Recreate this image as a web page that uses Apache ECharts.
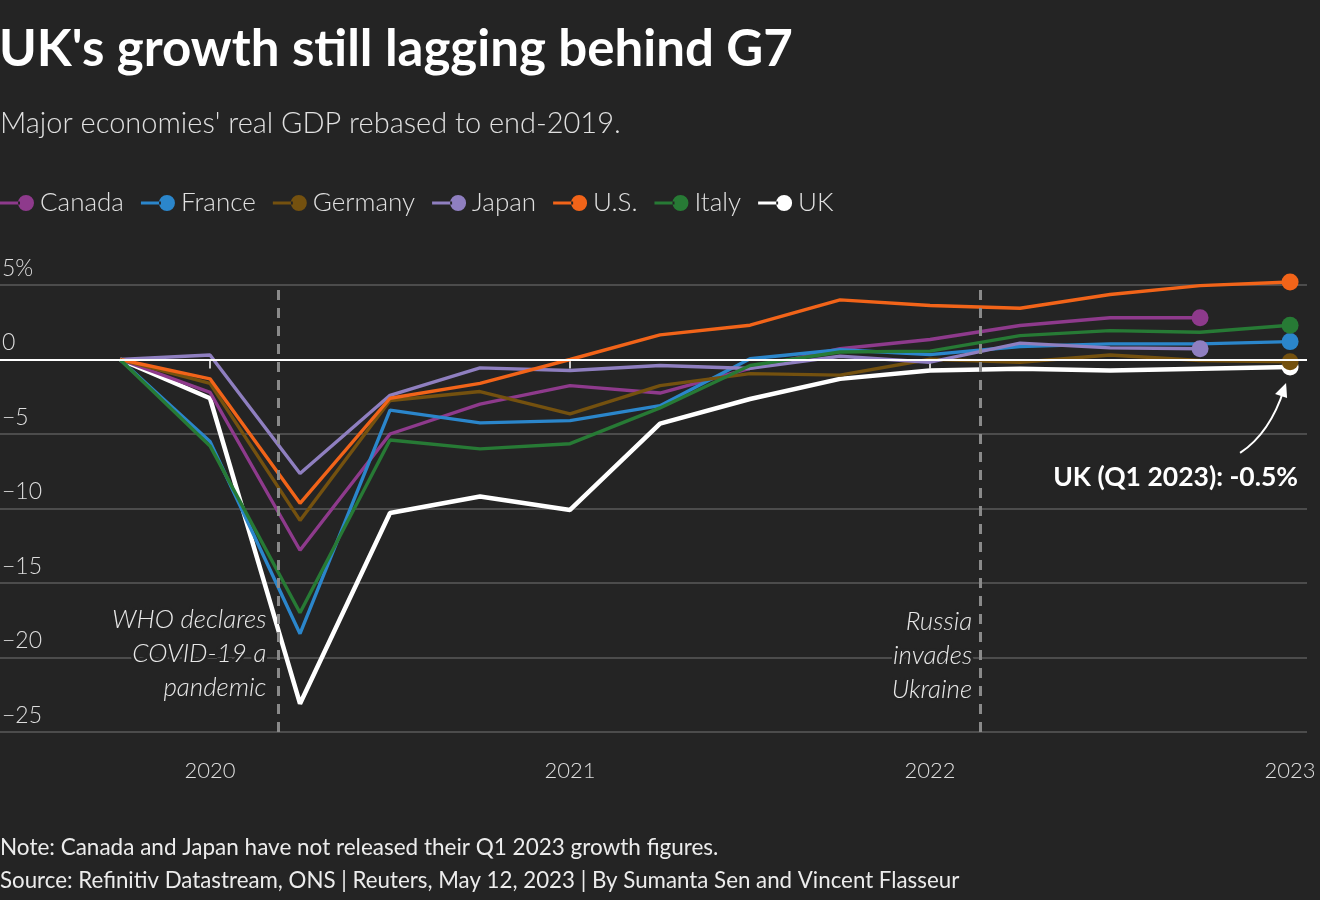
<!DOCTYPE html>
<html>
<head>
<meta charset="utf-8">
<script src="https://cdn.jsdelivr.net/npm/echarts@6/dist/echarts.min.js"></script>
<style>
html,body{margin:0;padding:0;background:#242424;}
#chart{width:1320px;height:900px;}
</style>
</head>
<body>
<div id="chart"></div>
<script>
// Quarter positions (year fraction): Q4 2019 (end-2019 base) ... Q1 2023
const quarters = [2019.75, 2020, 2020.25, 2020.5, 2020.75, 2021, 2021.25, 2021.5, 2021.75, 2022, 2022.25, 2022.5, 2022.75, 2023];
const yearTicks = [2020, 2021, 2022, 2023];
const yTicks = [-25, -20, -15, -10, -5, 0, 5];

const canada  = [0, -2.2, -12.8, -5.0, -3.0, -1.75, -2.25, -0.6, 0.72, 1.34, 2.28, 2.8, 2.8];
const france  = [0, -5.5, -18.4, -3.4, -4.25, -4.1, -3.1, 0.05, 0.65, 0.33, 0.87, 1.05, 1.05, 1.2];
const germany = [0, -1.6, -10.8, -2.75, -2.15, -3.65, -1.75, -0.95, -1.05, 0.02, -0.18, 0.3, -0.07, -0.15];
const japan   = [0, 0.3, -7.65, -2.4, -0.56, -0.74, -0.4, -0.6, 0.22, -0.18, 1.1, 0.78, 0.72];
const us      = [0, -1.3, -9.65, -2.6, -1.6, 0.0, 1.65, 2.3, 4.0, 3.62, 3.44, 4.36, 4.96, 5.2];
const italy   = [0, -5.8, -17.0, -5.4, -6.0, -5.65, -3.25, -0.4, 0.5, 0.56, 1.6, 1.94, 1.83, 2.3];
const uk      = [0, -2.6, -23.1, -10.3, -9.2, -10.1, -4.3, -2.65, -1.3, -0.74, -0.62, -0.74, -0.62, -0.5];

const seriesNames = ['Canada', 'France', 'Germany', 'Japan', 'U.S.', 'Italy', 'UK'];
const seriesValues = [canada, france, germany, japan, us, italy, uk];
const seriesColors = ['#8e3a8c', '#2b86cb', '#74510f', '#8f7fc0', '#f26419', '#277a35', '#ffffff'];

const events = [
  { x: 2020.19, text: 'WHO declares\nCOVID-19 a\npandemic' },
  { x: 2022.142, text: 'Russia\ninvades\nUkraine' }
];
const ukNote = 'UK (Q1 2023): -0.5%';

const FONT = 'Lato';
const legendIcon = 'path://M0,6.5 L20,6.5 L20,9.5 L0,9.5 Z M18,8 A8,8 0 1,0 34,8 A8,8 0 1,0 18,8 Z';

function buildData(vals) {
  return vals.map((v, i) => {
    const item = { value: [quarters[i], v] };
    item.symbol = (i === vals.length - 1) ? 'circle' : 'none';
    return item;
  });
}

const series = [];
const drawOrder = [6, 0, 1, 2, 3, 4, 5];
drawOrder.forEach(idx => {
  series.push({
    name: seriesNames[idx],
    type: 'line',
    data: buildData(seriesValues[idx]),
    symbol: 'circle',
    symbolSize: 17,
    showSymbol: true,
    showAllSymbol: true,
    clip: false,
    color: seriesColors[idx],
    lineStyle: { width: idx === 6 ? 4.5 : 3.4, color: seriesColors[idx] },
    itemStyle: { color: seriesColors[idx], borderWidth: 0 },
    emphasis: { disabled: true },
    z: idx === 6 ? 3 : 4
  });
});

series.push({
  name: 'refs',
  type: 'line',
  data: [],
  silent: true,
  markLine: {
    symbol: 'none',
    silent: true,
    label: { show: false },
    data: [
      { yAxis: 0, lineStyle: { color: '#ffffff', width: 2, type: 'solid' } },
      ...events.map(e => ({ xAxis: e.x, lineStyle: { color: '#8a8a8a', width: 3, type: [10, 8] } }))
    ]
  },
  z: 2
});

const chart = echarts.init(document.getElementById('chart'), null, { renderer: 'canvas' });

const option = {
  backgroundColor: '#242424',
  animation: false,
  textStyle: { fontFamily: FONT },
  title: [
    {
      text: "UK's growth still lagging behind G7",
      left: -1, top: 24, padding: 0,
      textStyle: { color: '#ffffff', fontSize: 51, fontWeight: 'bold', fontFamily: FONT }
    },
    {
      text: "Major economies' real GDP rebased to end-2019.",
      left: 0, top: 109, padding: 0,
      textStyle: { color: '#e0e0e0', fontSize: 29, fontWeight: 300, fontFamily: FONT }
    },
    {
      text: 'Note: Canada and Japan have not released their Q1 2023 growth figures.',
      left: 0, top: 836, padding: 0,
      textStyle: { color: '#ececec', fontSize: 22.5, fontWeight: 'normal', fontFamily: FONT }
    },
    {
      text: 'Source: Refinitiv Datastream, ONS | Reuters, May 12, 2023 | By Sumanta Sen and Vincent Flasseur',
      left: 0, top: 870, padding: 0,
      textStyle: { color: '#ececec', fontSize: 22.3, fontWeight: 'normal', fontFamily: FONT }
    }
  ],
  legend: {
    left: 0, top: 190, padding: 0,
    icon: legendIcon,
    itemWidth: 34, itemHeight: 16,
    itemGap: 17,
    data: seriesNames,
    textStyle: { color: '#e0e0e0', fontSize: 26, fontWeight: 300, fontFamily: FONT, padding: [0, 0, 0, 1] },
    selectedMode: false
  },
  grid: { left: 0, right: 13, top: 285, bottom: 168, containLabel: false, outerBoundsMode: 'none' },
  xAxis: {
    type: 'value',
    min: 2019.4167,
    max: 2023.047,
    axisLine: { show: false },
    splitLine: { show: false },
    axisTick: { show: true, customValues: yearTicks, length: 9, lineStyle: { color: '#ffffff', width: 1.5 } },
    axisLabel: {
      show: true, customValues: yearTicks, margin: 28,
      color: '#dddddd', fontSize: 22, fontWeight: 300, fontFamily: FONT,
      formatter: v => String(Math.round(v))
    }
  },
  yAxis: {
    type: 'value',
    min: -25, max: 5, interval: 5,
    axisLine: { show: false },
    axisTick: { show: false },
    splitLine: { show: true, lineStyle: { color: '#5a5a5a', width: 1.5 } },
    axisLabel: {
      inside: true, margin: 2,
      align: 'left', verticalAlign: 'bottom',
      padding: [0, 0, 5, 0],
      color: '#dddddd', fontSize: 23, fontWeight: 300, fontFamily: FONT,
      formatter: v => v === 5 ? '5%' : (v < 0 ? '\u2212' + Math.abs(v) : String(v))
    },
    z: 1
  },
  series: series
};

chart.setOption(option);

function px(x, y) { return chart.convertToPixel({ gridIndex: 0 }, [x, y]); }
const graphics = [];
const annStyle = {
  fill: '#e8e8e8', fontSize: 26, fontStyle: 'italic', fontWeight: 300, fontFamily: FONT,
  align: 'right', verticalAlign: 'middle', lineHeight: 34,
  stroke: '#242424', lineWidth: 6
};
const whoPos = px(events[0].x, -20.5);
graphics.push({ type: 'text', x: whoPos[0] - 12, y: whoPos[1] - 11, style: Object.assign({ text: events[0].text }, annStyle), z: 20 });
const rusPos = px(events[1].x, -20.6);
graphics.push({ type: 'text', x: rusPos[0] - 9, y: rusPos[1] - 11, style: Object.assign({ text: events[1].text }, annStyle), z: 20 });

const ukEnd = px(quarters[quarters.length - 1], uk[uk.length - 1]);
graphics.push({
  type: 'text', x: ukEnd[0] + 8, y: ukEnd[1] + 111,
  style: { text: ukNote, fill: '#ffffff', fontSize: 26.5, fontWeight: 'bold', fontFamily: FONT,
           align: 'right', verticalAlign: 'middle', stroke: '#242424', lineWidth: 5 },
  z: 20
});
const ax0 = ukEnd[0] - 50, ay0 = ukEnd[1] + 86;
const ax1 = ukEnd[0] - 6, ay1 = ukEnd[1] + 22;
graphics.push({
  type: 'bezierCurve',
  shape: { x1: ax0, y1: ay0, cpx1: ax0 + 30, cpy1: ay0 - 20, x2: ax1, y2: ay1 },
  style: { stroke: '#ffffff', lineWidth: 2, fill: null },
  z: 20
});
graphics.push({
  type: 'polygon',
  shape: { points: [[ax1 + 2, ay1 - 6], [ax1 - 9, ay1 + 5], [ax1 + 3, ay1 + 9]] },
  style: { fill: '#ffffff' },
  z: 20
});
chart.setOption({ graphic: graphics });
</script>
</body>
</html>
